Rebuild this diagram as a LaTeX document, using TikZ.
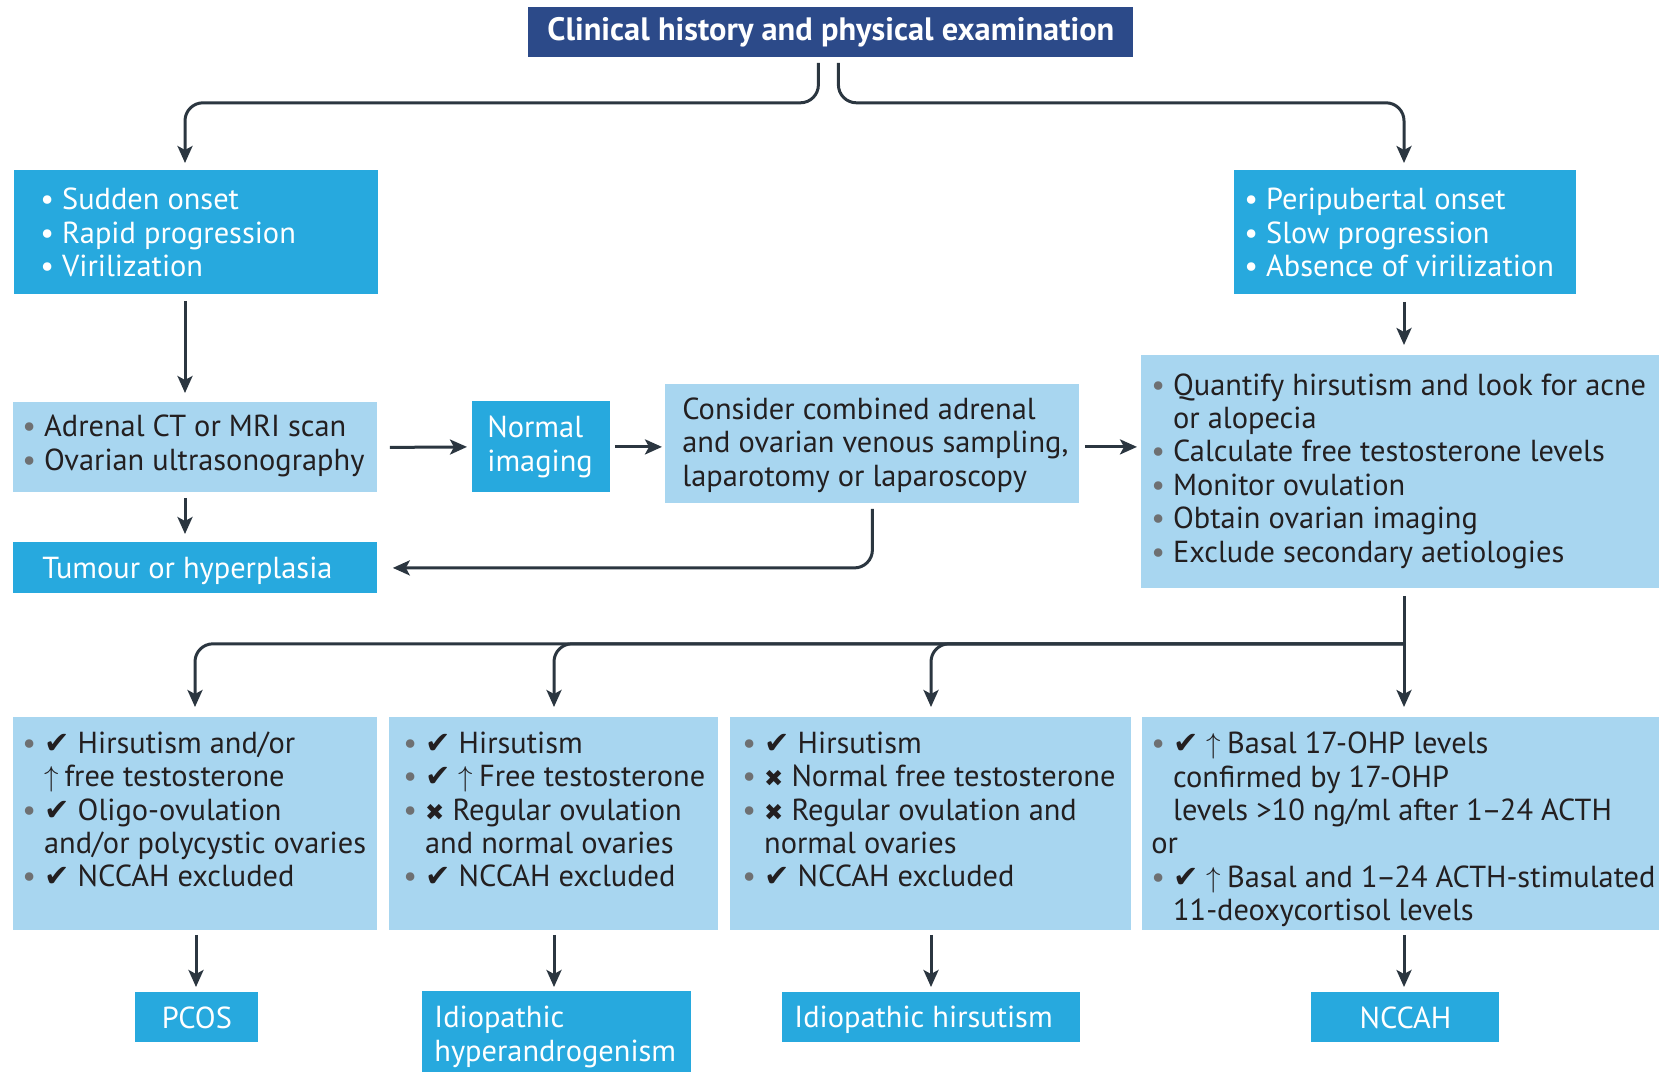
\documentclass[tikz,border=0pt]{standalone}
\usepackage{fontspec}
\setmainfont{PT Sans}
\newfontfamily\symf{DejaVu Sans}
\usetikzlibrary{arrows.meta,calc}
\definecolor{navy}{RGB}{44,74,137}
\definecolor{bright}{RGB}{39,169,222}
\definecolor{lightb}{RGB}{168,214,240}
\definecolor{linec}{RGB}{43,54,64}
\definecolor{textdark}{RGB}{35,31,32}
\definecolor{bulgrey}{RGB}{110,112,114}
\newcommand\gb{\textcolor{bulgrey}{•}}
\newcommand\ck{{\symf ✔}}
\newcommand\xx{{\symf\fontsize{11.5}{11.5}\selectfont ✖}}
\newcommand\up{$\uparrow$\hspace{3pt}}
\newcommand\dsh{\kern-0.8pt–\kern-0.8pt}
\tikzset{
 boxb/.style={fill=bright, inner sep=0, anchor=north west},
 boxl/.style={fill=lightb, inner sep=0, anchor=north west},
 txt/.style={inner sep=0, anchor=west, align=left, text=textdark, font=\fontsize{15.2}{16.7}\selectfont},
 wtxt/.style={txt, text=white},
 conn/.style={draw=linec, line width=1.5pt, rounded corners=9pt, -{Stealth[length=8.5pt,width=7.5pt,inset=2pt]}},
}
\begin{document}
\begin{tikzpicture}[x=0.5pt,y=-0.5pt]
\useasboundingbox (0,0) rectangle (1659,1072);
\node[fill=navy, inner sep=0, anchor=north west, minimum width=302.5pt, minimum height=25pt, text=white, font=\fontsize{16.2}{18}\selectfont\bfseries] (title) at (528,7) {\raisebox{-1pt}{Clinical history and physical examination}};

\node[boxb, minimum width=182pt, minimum height=62pt] (A) at (14,170) {};
\node[wtxt] (At) at (40,236.5) {\begin{tabular}{@{}l@{\hspace{4pt}}l@{}} • & Sudden onset\\ • & Rapid progression\\ • & Virilization\end{tabular}};

\node[boxb, minimum width=171pt, minimum height=62pt] (B) at (1234,170) {};
\node[wtxt] (Bt) at (1244,236.5) {\begin{tabular}{@{}l@{\hspace{4pt}}l@{}} • & Peripubertal onset\\ • & Slow progression\\ • & Absence of virilization\end{tabular}};

\node[boxl, minimum width=182pt, minimum height=45pt] (C) at (13,402) {};
\node[txt] (Ct) at (22,447) {\begin{tabular}{@{}l@{\hspace{4pt}}l@{}} \gb & Adrenal CT or MRI scan\\ \gb & Ovarian ultrasonography\end{tabular}};

\node[boxb, minimum width=69pt, minimum height=45.5pt] (N) at (472,401) {};
\node[wtxt] (Nt) at (487,447) {Normal\\imaging};

\node[boxl, minimum width=207pt, minimum height=59.5pt] (K) at (665,384) {};
\node[txt] (Kt) at (682,445) {Consider combined adrenal\\and ovarian venous sampling,\\laparotomy or laparoscopy};

\node[boxl, minimum width=259pt, minimum height=116.5pt] (D) at (1141,355) {};
\node[txt] (Dt) at (1151,472) {\begin{tabular}{@{}l@{\hspace{4pt}}l@{}} \gb & Quantify hirsutism and look for acne\\ & or alopecia\\ \gb & Calculate free testosterone levels\\ \gb & Monitor ovulation\\ \gb & Obtain ovarian imaging\\ \gb & Exclude secondary aetiologies\end{tabular}};

\node[boxb, minimum width=182pt, minimum height=25.5pt] (T) at (13,542) {};
\node[wtxt] (Tt) at (42,571) {Tumour or hyperplasia};

\node[boxl, minimum width=182pt, minimum height=106.5pt] (E1) at (13,717) {};
\node[txt] (E1t) at (22,813.5) {\begin{tabular}{@{}l@{\hspace{4pt}}l@{}} \gb & \ck{} Hirsutism and/or\\ & \up free testosterone\\ \gb & \ck{} Oligo-ovulation\\ & and/or polycystic ovaries\\ \gb & \ck{} NCCAH excluded\end{tabular}};

\node[boxl, minimum width=164.5pt, minimum height=106.5pt] (E2) at (389,717) {};
\node[txt] (E2t) at (403,813.5) {\begin{tabular}{@{}l@{\hspace{4pt}}l@{}} \gb & \ck{} Hirsutism\\ \gb & \ck{} \up Free testosterone\\ \gb & \xx{} Regular ovulation\\ & and normal ovaries\\ \gb & \ck{} NCCAH excluded\end{tabular}};

\node[boxl, minimum width=200.5pt, minimum height=106.5pt] (E3) at (730,717) {};
\node[txt] (E3t) at (742,813.5) {\begin{tabular}{@{}l@{\hspace{4pt}}l@{}} \gb & \ck{} Hirsutism\\ \gb & \xx{} Normal free testosterone\\ \gb & \xx{} Regular ovulation and\\ & normal ovaries\\ \gb & \ck{} NCCAH excluded\end{tabular}};

\node[boxl, minimum width=258.5pt, minimum height=106.5pt] (E4) at (1142,717) {};
\node[txt] (E4t) at (1151,830.5) {\begin{tabular}{@{}l@{\hspace{4pt}}l@{}} \gb & \ck{} \up Basal 17-OHP levels\\ & confirmed by 17-OHP\\ & levels >10 ng/ml after 1\dsh24 ACTH\\ \multicolumn{2}{@{}l@{}}{or}\\ \gb & \ck{} \up Basal and 1\dsh24 ACTH-stimulated\\ & 11-deoxycortisol levels\end{tabular}};

\node[boxb, minimum width=61.5pt, minimum height=25pt, text=white, font=\fontsize{15.2}{16.7}\selectfont] (P) at (135,992) {PCOS};
\node[boxb, minimum width=134.5pt, minimum height=40.5pt] (IH) at (422,991) {};
\node[wtxt] (IHt) at (434,1037) {Idiopathic\\hyperandrogenism};
\node[boxb, minimum width=149pt, minimum height=25pt] (IHi) at (782,992) {};
\node[wtxt] (IHit) at (794,1020) {Idiopathic hirsutism};
\node[boxb, minimum width=94pt, minimum height=25pt, text=white, font=\fontsize{15.2}{16.7}\selectfont] (NC) at (1311,992) {NCCAH};

\draw[conn] ($(title.south)+(-12.5,5)$) -- ++(0,40) -| ($(A.north west)+(171,-7)$);
\draw[conn] ($(title.south)+(7.5,5)$) -- ++(0,40) -| ($(B.north west)+(170,-7)$);
\draw[conn] ($(A.south west)+(171,6)$) -- ($(C.north west)+(172,-9)$);
\draw[conn] ($(C.south west)+(172,5)$) -- ($(T.north west)+(172,-8)$);
\draw[conn] ($(C.east)+(12,0)$) -- ($(N.west)+(-5,0)$);
\draw[conn] ($(N.east)+(4,0)$) -- ($(K.west |- N.east)+(-3,0)$);
\draw[conn] ($(K.east |- N.east)+(5,0)$) -- ($(D.west |- N.east)+(-4,0)$);
\draw[conn] ($(B.south west)+(170,7)$) -- ($(D.north west)+(263,-10)$);
\draw[conn] ($(K.south)+(0,5)$) |- ($(T.east)+(15,0)$);
\draw[conn] ($(D.south west)+(263,7)$) -- ($(E4.north west)+(262,-10)$);
\coordinate (br) at ($(D.south west)+(263,55)$);
\draw[conn] (br) -| ($(E1.north west)+(182,-10)$);
\draw[conn] (br) -| ($(E2.north west)+(165,-10)$);
\draw[conn] (br) -| ($(E3.north west)+(201,-10)$);
\draw[conn] ($(E1.south west)+(183,4)$) -- ($(P.north west)+(61,-5)$);
\draw[conn] ($(E2.south west)+(165,4)$) -- ($(IH.north west)+(132,-4)$);
\draw[conn] ($(E3.south west)+(201,4)$) -- ($(IHi.north west)+(149,-5)$);
\draw[conn] ($(E4.south west)+(262,4)$) -- ($(NC.north west)+(93,-5)$);
\end{tikzpicture}
\end{document}
